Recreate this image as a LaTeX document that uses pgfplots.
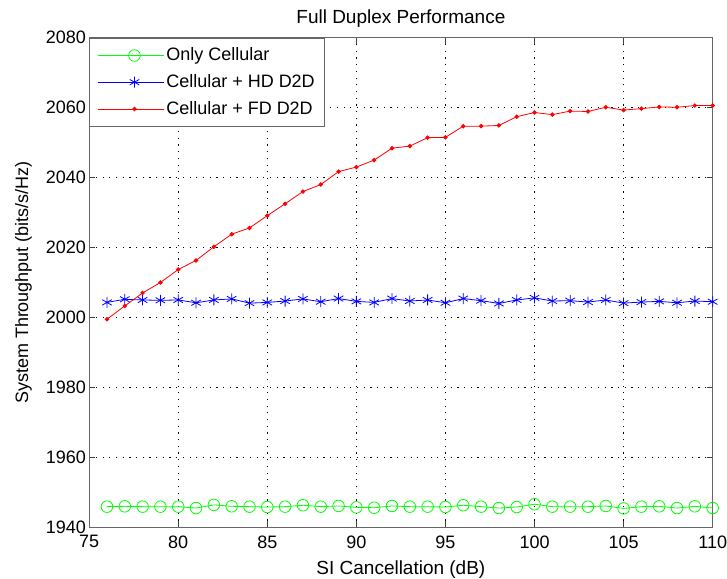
\documentclass[border=0pt]{standalone}
\usepackage{fontspec}
\setmainfont{Liberation Sans}
\usepackage{pgfplots}
\pgfplotsset{compat=1.18}
\begin{document}
\fontsize{18}{21}\selectfont
\begin{tikzpicture}
\begin{axis}[
  scale only axis,
  width=624pt, height=490pt,
  xmin=75, xmax=110, ymin=1940, ymax=2080,
  xtick={75,80,...,110}, ytick={1940,1960,...,2080},
  /pgf/number format/assume math mode=true,
  /pgf/number format/1000 sep={},
  tick label style={font=\fontsize{18}{21}\selectfont},
  yticklabel style={inner sep=0pt, xshift=-3pt},
  xticklabel style={inner sep=0pt, yshift=-8pt},
  title style={font=\fontsize{19}{22}\selectfont, inner xsep=0pt, inner ysep=10pt, yshift=-6.2pt},
  title={Full Duplex Performance},
  xlabel={SI Cancellation (dB)},
  xlabel style={font=\fontsize{19}{22}\selectfont, inner xsep=0pt, inner ysep=0pt, yshift=-12pt},
  ylabel={System Throughput (bits/s/Hz)},
  ylabel style={font=\fontsize{18}{21}\selectfont, inner xsep=0pt, inner ysep=15pt, yshift=-1pt},
  grid=major,
  major grid style={black, line width=0.6pt, dash pattern=on 1.2pt off 5.5pt},
  tick align=inside,
  major tick length=6pt,
  tick style={black!75, line width=0.7pt},
  axis line style={black!60, line width=0.9pt},
  legend cell align=left,
  legend style={font=\fontsize{18}{21}\selectfont, draw=black!60, line width=0.9pt, at={(0,1)}, anchor=north west, inner xsep=8pt, inner ysep=7.5pt, row sep=7pt},
  legend image code/.code={\path (0pt,0pt) -- (66pt,0pt); \draw[#1, mark=none] (7pt,0pt) -- (66pt,0pt); \draw[#1, only marks] plot coordinates {(36.5pt,0pt)};},
]
\addplot[color=green, line width=0.8pt, mark=o, mark size=5.8pt, mark options={solid}] coordinates {
(76,1945.9)(77,1946.0)(78,1945.9)(79,1945.9)(80,1945.9)(81,1945.5)(82,1946.4)(83,1946.0)(84,1945.9)(85,1945.8)
(86,1945.9)(87,1946.3)(88,1945.9)(89,1946.1)(90,1945.7)(91,1945.6)(92,1946.1)(93,1945.9)(94,1945.9)(95,1945.8)
(96,1946.3)(97,1945.9)(98,1945.5)(99,1945.8)(100,1946.6)(101,1945.9)(102,1945.9)(103,1945.9)(104,1946.1)(105,1945.4)
(106,1945.9)(107,1946.0)(108,1945.5)(109,1946.0)(110,1945.5)};
\addlegendentry{Only Cellular}
\addplot[color=blue, line width=0.8pt, mark=asterisk, mark size=5.5pt, mark options={solid}] coordinates {
(76,2004.3)(77,2005.2)(78,2005.0)(79,2004.9)(80,2005.0)(81,2004.2)(82,2005.0)(83,2005.3)(84,2004.1)(85,2004.3)
(86,2004.7)(87,2005.3)(88,2004.5)(89,2005.4)(90,2004.6)(91,2004.3)(92,2005.4)(93,2004.7)(94,2005.0)(95,2004.2)
(96,2005.4)(97,2004.8)(98,2004.0)(99,2005.0)(100,2005.6)(101,2004.7)(102,2004.8)(103,2004.4)(104,2005.0)(105,2004.1)
(106,2004.4)(107,2004.6)(108,2004.2)(109,2004.7)(110,2004.5)};
\addlegendentry{Cellular + HD D2D}
\addplot[color=red, line width=0.8pt, mark=*, mark size=1.8pt, mark options={solid}] coordinates {
(76,1999.5)(77,2003.3)(78,2007.0)(79,2010.0)(80,2013.7)(81,2016.3)(82,2020.2)(83,2023.8)(84,2025.6)(85,2029.1)
(86,2032.5)(87,2036.0)(88,2038.0)(89,2041.7)(90,2043.0)(91,2045.0)(92,2048.4)(93,2049.0)(94,2051.4)(95,2051.5)
(96,2054.7)(97,2054.7)(98,2054.9)(99,2057.4)(100,2058.6)(101,2058.0)(102,2059.0)(103,2058.9)(104,2060.1)(105,2059.3)
(106,2059.7)(107,2060.2)(108,2060.1)(109,2060.6)(110,2060.6)};
\addlegendentry{Cellular + FD D2D}
\end{axis}
\end{tikzpicture}
\end{document}
